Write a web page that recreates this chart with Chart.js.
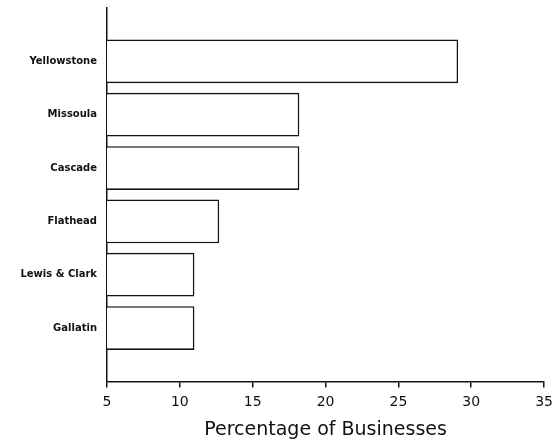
<!DOCTYPE html>
<html>
<head>
<meta charset="utf-8">
<script src="https://cdn.jsdelivr.net/npm/chart.js@4"></script>
<style>
  html, body { margin: 0; padding: 0; background: #fff; }
  #wrap { width: 560px; height: 444px; }
</style>
</head>
<body>
<div id="wrap"><canvas id="chart" width="560" height="444"></canvas></div>
<script>
const counties = ['Yellowstone', 'Missoula', 'Cascade', 'Flathead', 'Lewis & Clark', 'Gallatin'];
const percentages = [29.1, 18.2, 18.2, 12.7, 11.0, 11.0];
const xTicks = [5, 10, 15, 20, 25, 30, 35];

const ctx = document.getElementById('chart').getContext('2d');

new Chart(ctx, {
  type: 'bar',
  data: {
    datasets: [{
      data: percentages.map((v, i) => ({ x: v, y: i })),
      backgroundColor: '#fff',
      borderColor: '#111',
      borderWidth: 1.6,
      barPercentage: 1,
      categoryPercentage: 0.82
    }]
  },
  options: {
    indexAxis: 'y',
    responsive: false,
    animation: false,
    layout: { padding: { top: 8, right: 15, left: 0, bottom: 0 } },
    plugins: { legend: { display: false }, tooltip: { enabled: false } },
    scales: {
      x: {
        type: 'linear',
        min: xTicks[0],
        max: xTicks[xTicks.length - 1],
        afterBuildTicks: scale => { scale.ticks = xTicks.map(v => ({ value: v })); },
        grid: { drawOnChartArea: false, tickLength: 6, color: '#111', lineWidth: 1.5 },
        border: { display: true, color: '#111', width: 1.5 },
        ticks: { color: '#111', padding: 7, font: { family: 'DejaVu Sans', size: 14 } },
        title: {
          display: true,
          text: 'Percentage of Businesses',
          color: '#111',
          padding: { top: 0, bottom: 3 },
          font: { family: 'DejaVu Sans', size: 19 }
        }
      },
      y: {
        type: 'linear',
        offset: false,
        min: -1,
        max: counties.length,
        reverse: true,
        afterFit: scale => {
          scale.width = 107;
          scale.paddingTop = 0;
          scale.paddingBottom = 0;
        },
        afterBuildTicks: scale => { scale.ticks = counties.map((c, i) => ({ value: i })); },
        grid: { offset: false, drawOnChartArea: false, drawTicks: false },
        border: { display: true, color: '#111', width: 1.5 },
        ticks: {
          color: '#111',
          padding: 10,
          font: { family: 'DejaVu Sans', size: 10, weight: 'bold' },
          callback: v => counties[v] || ''
        }
      }
    }
  }
});
</script>
</body>
</html>
